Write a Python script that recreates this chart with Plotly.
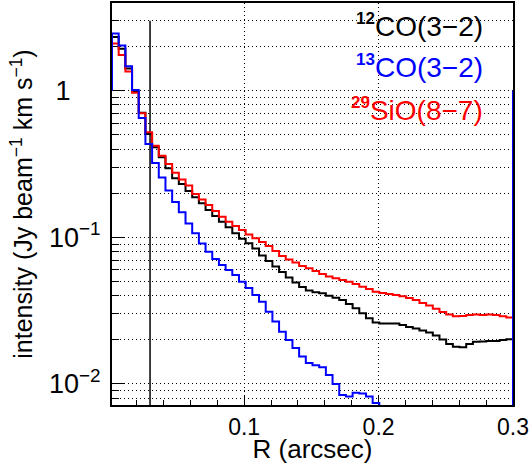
import numpy as np
import plotly.graph_objects as go

# ---------------- data ----------------
R_MIN, R_MAX, N_BINS = 0.0017, 0.3, 60      # radial histogram binning (arcsec)
R_CUT = 0.03                                 # vertical marker at R = 0.03"
CUT_TOP = 3.0
BASELINE = 1.0                               # histogram drawing baseline

co12 = [2.32, 1.93, 1.42, 0.984, 0.708, 0.507, 0.411, 0.351, 0.296, 0.253,
        0.231, 0.207, 0.1875, 0.1706, 0.1536, 0.1397, 0.1278, 0.117, 0.1065, 0.0977,
        0.091, 0.0839, 0.0751, 0.0689, 0.0632, 0.058, 0.0532, 0.0492, 0.0458, 0.0434,
        0.0422, 0.0415, 0.040, 0.0387, 0.0374, 0.0351, 0.0328, 0.0303, 0.028, 0.0262,
        0.0258, 0.0258, 0.0258, 0.0252, 0.0244, 0.0239, 0.0231, 0.0224, 0.0214, 0.0201,
        0.0187, 0.0179, 0.0178, 0.0187, 0.0194, 0.0195, 0.0196, 0.0196, 0.0199, 0.0202]

co13 = [2.46, 2.03, 1.47, 1.01, 0.651, 0.433, 0.321, 0.256, 0.2086, 0.174,
        0.148, 0.124, 0.1065, 0.0908, 0.0797, 0.0711, 0.0647, 0.0598, 0.0553, 0.0498,
        0.0451, 0.0404, 0.0364, 0.0311, 0.0266, 0.0227, 0.0199, 0.0176, 0.0154, 0.0139,
        0.0134, 0.0130, 0.0115, 0.0100, 0.0084, 0.0082, 0.0087, 0.0086, 0.0082, 0.0074,
        0.0065, 0.0060, 0.0058, 0.0055, 0.0052, 0.0050, 0.0048, 0.0046, 0.0045, 0.0044,
        0.0043, 0.0042, 0.0041, 0.0040, 0.0040, 0.0039, 0.0038, 0.0038, 0.0037, 0.0037]

sio29 = [2.10, 1.75, 1.35, 0.969, 0.701, 0.520, 0.4215, 0.360, 0.316, 0.276,
         0.248, 0.226, 0.1974, 0.1811, 0.1661, 0.1512, 0.1382, 0.1278, 0.1194, 0.1122,
         0.1045, 0.0985, 0.0929, 0.0873, 0.0806, 0.0745, 0.0706, 0.0673, 0.0637, 0.0614,
         0.0589, 0.0562, 0.054, 0.0525, 0.0511, 0.0498, 0.048, 0.046, 0.0444, 0.0426,
         0.0417, 0.041, 0.0404, 0.0396, 0.0385, 0.0374, 0.0356, 0.0343, 0.0325, 0.0309,
         0.0297, 0.0289, 0.0291, 0.0295, 0.0297, 0.0295, 0.0298, 0.0295, 0.0289, 0.0284]

Y_MIN, Y_MAX = 0.00718, 3.965
x_ticks = [0.1, 0.2, 0.3]
x_ticktext = ["0.1", "0.2", "0.3"]
y_major = [0.01, 0.1, 1]
y_major_text = ["10<sup>\u22122</sup>", "10<sup>\u22121</sup>", "1\u00a0\u00a0\u00a0\u00a0"]
y_minor = [0.008, 0.009, 0.02, 0.03, 0.04, 0.05, 0.06, 0.07, 0.08, 0.09,
           0.2, 0.3, 0.4, 0.5, 0.6, 0.7, 0.8, 0.9, 2, 3]

SUP = "<sup><b><span style='font-size:17px'>{}</span></b></sup>"
series = [
    (SUP.format("12") + "CO(3\u22122)", co12, "#000000"),
    (SUP.format("29") + "SiO(8\u22127)", sio29, "#ff0000"),
    (SUP.format("13") + "CO(3\u22122)", co13, "#0000ff"),
]
legend_order = [0, 2, 1]

# ---------------- figure ----------------
edges = np.linspace(R_MIN, R_MAX, N_BINS + 1)


def step(vals):
    xs = [edges[0]] + list(edges[:-1]) + [edges[-1], edges[-1]]
    ys = [BASELINE] + list(vals) + [vals[-1], BASELINE]
    return xs, ys


FONT = "Liberation Sans"
fig = go.Figure()

fig.add_trace(go.Scatter(x=[R_CUT, R_CUT], y=[CUT_TOP, Y_MIN * 0.5], mode="lines",
                         line=dict(color="#111111", width=1.6), showlegend=False,
                         hoverinfo="skip"))

for name, vals, col in series:
    xs, ys = step(vals)
    fig.add_trace(go.Scatter(x=xs, y=ys, mode="lines", line_shape="hv",
                             line=dict(color=col, width=2), name=name,
                             showlegend=False))

grid_dash = "1px,3px"
fig.update_layout(
    width=532, height=464,
    margin=dict(l=112, r=19, t=3, b=59, autoexpand=False),
    paper_bgcolor="white", plot_bgcolor="white",
    font=dict(family=FONT, color="black"),
    xaxis=dict(
        range=[R_MIN, R_MAX], tickvals=x_ticks, ticktext=x_ticktext,
        automargin=False,
        ticks="inside", ticklen=9, tickwidth=1, tickcolor="black",
        showline=True, linewidth=2, linecolor="black", mirror=True,
        showgrid=True, gridcolor="black", gridwidth=1, griddash=grid_dash,
        zeroline=False, layer="below traces",
        tickfont=dict(size=23, family=FONT), ticklabelstandoff=0,
        minor=dict(dtick=0.02, tick0=0, ticks="inside", ticklen=5,
                   tickcolor="black", showgrid=False),
        title=dict(text="R (arcsec)", font=dict(size=26, family=FONT), standoff=0),
    ),
    yaxis=dict(
        type="log", range=[np.log10(Y_MIN), np.log10(Y_MAX)],
        tickvals=y_major, ticktext=y_major_text,
        automargin=False,
        ticks="inside", ticklen=13, tickwidth=1, tickcolor="black",
        showline=True, linewidth=2, linecolor="black", mirror=True,
        showgrid=True, gridcolor="black", gridwidth=1, griddash=grid_dash,
        zeroline=False, layer="below traces",
        tickfont=dict(size=27, family=FONT), ticklabelstandoff=4,
        minor=dict(tickvals=y_minor, ticks="inside", ticklen=7,
                   tickcolor="black", showgrid=True, gridcolor="black",
                   gridwidth=1, griddash=grid_dash),
        title=dict(text="intensity (Jy beam<sup>\u22121</sup> km s<sup>\u22121</sup>)",
                   font=dict(size=25, family=FONT), standoff=9),
    ),
)

leg_y = [0.943, 0.841, 0.736]
for k, idx in enumerate(legend_order):
    name, _, col = series[idx]
    fig.add_annotation(x=0.93, y=leg_y[k], xref="paper", yref="paper",
                       text=name, showarrow=False, xanchor="right", yanchor="middle",
                       font=dict(size=28, color=col, family=FONT))

fig.write_html("out.html",
               config={"displayModeBar": False, "staticPlot": True},
               post_script="document.body.style.margin='0px';"
                           "document.body.style.overflow='hidden';")
